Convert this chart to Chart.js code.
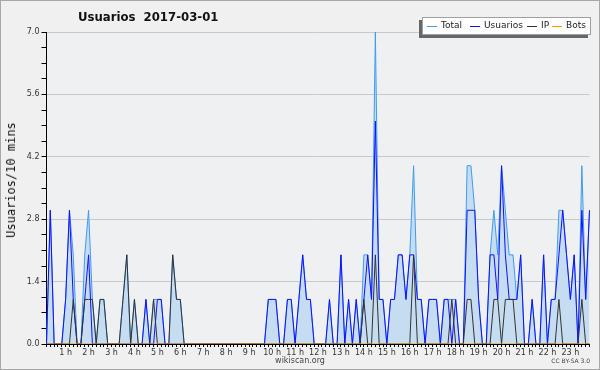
<!DOCTYPE html>
<html>
<head>
<meta charset="utf-8">
<script src="https://cdn.jsdelivr.net/npm/chart.js@4.4.1/dist/chart.umd.min.js"></script>
<style>
  html, body { margin: 0; padding: 0; background: #f0f0f0; }
  #wrap { position: relative; width: 600px; height: 370px; overflow: hidden; background: #f0f0f0;
          font-family: "DejaVu Sans", sans-serif; color: #222; }
  #frame { position: absolute; left: 0; top: 0; width: 598px; height: 368px; border: 1px solid #a8a8a8; pointer-events: none; }
  canvas { position: absolute; left: 0; top: 0; }
  #title { position: absolute; left: 78px; top: 9px; font-size: 13px; font-weight: bold; white-space: pre;
           font-stretch: condensed; color: #111; }
  #ytitle { position: absolute; left: 11px; top: 180px; font-family: "DejaVu Sans Mono", monospace; font-size: 12px;
            white-space: pre; transform: translate(-50%, -50%) rotate(-90deg); color: #111; }
  #legend { position: absolute; left: 422px; top: 17px; width: 167px; height: 16px; background: #fff;
            border: 1px solid #a0a0a0; box-shadow: -3px 3px 0 #666; font-size: 9px; }
  #legend span { position: absolute; top: 2px; white-space: pre; line-height: 11px; }
  #legend b { position: absolute; top: 8px; height: 1px; width: 10px; }
  #site { position: absolute; left: 300px; top: 356px; transform: translateX(-50%); font-size: 8px; color: #444; }
  #lic { position: absolute; right: 10px; top: 357px; font-size: 6px; color: #444; }
</style>
</head>
<body>
<div id="wrap">
  <canvas id="c" width="600" height="370"></canvas>
  <div id="title">Usuarios  2017-03-01</div>
  <div id="ytitle">Usuarios/10 mins</div>
  <div id="legend"></div>
  <div id="site">wikiscan.org</div>
  <div id="lic">CC BY-SA 3.0</div>
  <div id="frame"></div>
</div>
<script>
/* ─── DATA (10-minute slots, 00:10 .. 23:50) ───────────────── */
const usuarios = [
  0,3,0,0,0,1,3,1,0,0,   1,2,0,0,0,0,0,0,0,0,
  0,0,0,0,0,0,1,0,0,1,   1,0,0,0,0,0,0,0,0,0,
  0,0,0,0,0,0,0,0,0,0,   0,0,0,0,0,0,0,0,1,1,
  1,0,0,1,1,0,1,2,1,1,   0,0,0,0,1,0,0,2,0,1,
  0,1,0,1,2,1,5,1,1,0,   1,1,2,2,1,2,2,1,1,0,
  1,1,1,0,1,1,0,1,0,0,   3,3,3,1,0,0,2,2,1,4,
  2,1,1,1,2,0,0,1,0,0,   2,0,1,1,2,3,2,1,2,0,
  3,1,3
];
const ip = [
  0,0,0,0,0,0,0,1,0,0,   1,1,1,0,1,1,0,0,0,0,
  1,2,0,1,0,0,0,0,1,0,   0,0,0,2,1,1,0,0,0,0,
  0,0,0,0,0,0,0,0,0,0,   0,0,0,0,0,0,0,0,0,0,
  0,0,0,0,0,0,0,0,0,0,   0,0,0,0,0,0,0,0,0,0,
  0,0,0,1,0,0,2,0,0,0,   0,0,0,0,0,0,2,0,0,0,
  0,0,0,0,0,0,1,0,0,0,   1,1,0,0,0,0,0,1,1,0,
  1,1,1,0,0,0,0,0,0,0,   0,0,0,0,1,0,0,0,0,0,
  1,0,0
];
const total = [
  0,3,0,0,0,1,3,2,0,0,   2,3,1,0,1,1,0,0,0,0,
  1,2,0,1,0,0,1,0,1,1,   1,0,0,2,1,1,0,0,0,0,
  0,0,0,0,0,0,0,0,0,0,   0,0,0,0,0,0,0,0,1,1,
  1,0,0,1,1,0,1,2,1,1,   0,0,0,0,1,0,0,2,0,1,
  0,1,0,2,2,1,7,1,1,0,   1,1,2,2,1,2,4,1,1,0,
  1,1,1,0,1,1,1,1,0,0,   4,4,3,1,0,0,2,3,2,4,
  3,2,2,1,2,0,0,1,0,0,   2,0,1,1,3,3,2,1,2,0,
  4,1,3
];
const bots = total.map(() => 0);

const hourLabels = ['1 h','2 h','3 h','4 h','5 h','6 h','7 h','8 h','9 h','10 h','11 h','12 h',
                    '13 h','14 h','15 h','16 h','17 h','18 h','19 h','20 h','21 h','22 h','23 h'];
const yMajor = [0, 1.4, 2.8, 4.2, 5.6, 7.0];

const slots = [];
for (let m = 10; m < 24 * 60; m += 10) {
  slots.push(String(Math.floor(m / 60)).padStart(2, '0') + ':' + String(m % 60).padStart(2, '0'));
}

/* ─── STYLE ───────────────────────────────────────────────── */
const series = [
  { label: 'Total',    data: total,    color: '#3f9cf0', order: 4, fill: true, lx: 4 },
  { label: 'Usuarios', data: usuarios, color: '#1010ff', order: 3, lx: 47 },
  { label: 'IP',       data: ip,       color: '#333333', order: 2, lx: 104 },
  { label: 'Bots',     data: bots,     color: '#ff9900', order: 1, lx: 129 },
];

const isMajor = v => yMajor.some(m => Math.abs(m - v) < 1e-6);

const plotBg = {
  id: 'plotBg',
  beforeDraw(chart) {
    const { ctx, chartArea: a } = chart;
    ctx.save();
    ctx.fillStyle = '#eef0f2';
    ctx.fillRect(a.left, a.top, a.width, a.height);
    ctx.restore();
  }
};

const tickFont = { family: 'DejaVu Sans', size: 8 };

new Chart(document.getElementById('c'), {
  type: 'line',
  data: {
    labels: slots,
    datasets: series.map(s => ({
      label: s.label,
      data: s.data,
      borderColor: s.color,
      borderWidth: 1,
      pointRadius: 0,
      tension: 0,
      order: s.order,
      fill: s.fill ? 'origin' : false,
      backgroundColor: s.fill ? '#c6dcf0' : s.color,
    })),
  },
  options: {
    responsive: false,
    animation: false,
    layout: { padding: { left: 0, right: 10.5, top: 32, bottom: 0 } },
    plugins: { legend: { display: false }, tooltip: { enabled: false } },
    scales: {
      x: {
        z: 1,
        ticks: {
          autoSkip: false, maxRotation: 0, minRotation: 0, padding: 1,
          font: tickFont, color: '#333',
          callback: (v, i) => (i + 1) % 6 === 0 ? hourLabels[(i + 1) / 6 - 1] : '',
        },
        grid: { drawOnChartArea: false, drawTicks: true, tickLength: 3, tickColor: '#000' },
        border: { color: '#000', width: 1 },
        afterFit: s => { s.height = 26; },
      },
      y: {
        min: 0, max: 7,
        ticks: {
          stepSize: 0.35, autoSkip: false, padding: 2,
          font: tickFont, color: '#333',
          callback: v => isMajor(v) ? v.toFixed(1) : '',
        },
        grid: {
          color: c => (c.tick && isMajor(c.tick.value) && c.tick.value > 0) ? '#c9c9c9' : 'rgba(0,0,0,0)',
          tickColor: '#000', tickLength: 5, drawTicks: true,
        },
        border: { color: '#000', width: 1 },
        afterFit: s => { s.width = 46.5; },
      },
    },
  },
  plugins: [plotBg],
});

/* ─── LEGEND ──────────────────────────────────────────────── */
const legend = document.getElementById('legend');
series.forEach(s => {
  const line = document.createElement('b');
  line.style.left = s.lx + 'px';
  line.style.background = s.color;
  const txt = document.createElement('span');
  txt.style.left = (s.lx + 14) + 'px';
  txt.textContent = s.label;
  legend.appendChild(line);
  legend.appendChild(txt);
});
</script>
</body>
</html>
